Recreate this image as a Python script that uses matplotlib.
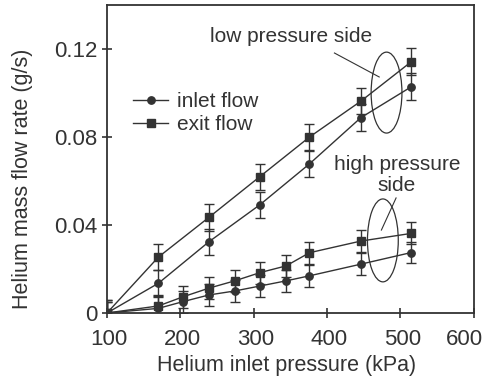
import numpy as np
import matplotlib.pyplot as plt
import matplotlib.transforms as mtransforms
from matplotlib.patches import Ellipse
from matplotlib.lines import Line2D

plt.rcParams['font.family'] = ['Liberation Sans', 'DejaVu Sans']

# low pressure side
p_low = [100, 170, 239, 308, 376, 446, 515]
inlet_low = [0.0, 0.0135, 0.0324, 0.0491, 0.0678, 0.0888, 0.1029]
exit_low = [0.0, 0.0254, 0.0435, 0.0619, 0.0800, 0.0963, 0.1143]
err_low = 0.006

# high pressure side
p_high = [100, 170, 204, 239, 274, 309, 344, 376, 446, 515]
inlet_high = [0.0, 0.0021, 0.0052, 0.0082, 0.0100, 0.0123, 0.0146, 0.0169, 0.0222, 0.0275]
exit_high = [0.0, 0.0032, 0.0074, 0.0113, 0.0146, 0.0184, 0.0214, 0.0274, 0.0327, 0.0362]
err_high = 0.005

xticks = [100, 200, 300, 400, 500, 600]
yticks = [0, 0.04, 0.08, 0.12]
yticklabels = ['0', '0.04', '0.08', '0.12']

c = '#333333'
fig = plt.figure(figsize=(4.85, 3.83), dpi=100)
ax = fig.add_axes([0.2206, 0.1828, 0.7564, 0.804])

kw = dict(color=c, lw=1.0, ecolor=c, elinewidth=1.0, capsize=3.5, capthick=1.0)
ax.errorbar(p_low, inlet_low, yerr=err_low, fmt='-o', ms=5.3, **kw)
ax.errorbar(p_low, exit_low, yerr=err_low, fmt='-s', ms=6, **kw)
ax.errorbar(p_high, inlet_high, yerr=err_high, fmt='-o', ms=5.3, **kw)
ax.errorbar(p_high, exit_high, yerr=err_high, fmt='-s', ms=6, **kw)

ax.set_xlim(100, 600)
ax.set_ylim(0, 0.14)
ax.set_xticks(xticks)
ax.set_yticks(yticks)
ax.set_yticklabels(yticklabels)
ax.tick_params(direction='inout', length=7.5, width=1.2, colors=c, labelsize=16)
ax.tick_params(axis='x', pad=8)
ax.tick_params(axis='y', pad=3)
for s in ax.spines.values():
    s.set_color(c)
    s.set_linewidth(1.3)

# nudge the last x label so it fits inside the figure
for i, lab in enumerate(ax.get_xticklabels()):
    dx = -9 if i == len(xticks) - 1 else 2
    lab.set_transform(lab.get_transform() +
                      mtransforms.ScaledTranslation(dx / 100, 0, fig.dpi_scale_trans))

ax.set_xlabel('Helium inlet pressure (kPa)', fontsize=15.5, color=c)
ax.set_ylabel('Helium mass flow rate (g/s)', fontsize=15.5, color=c)
ax.xaxis.set_label_coords(0.49, -0.135)
ax.yaxis.set_label_coords(-0.203, 0.435)

handles = [Line2D([], [], color=c, lw=1.0, marker='o', ms=5.3),
           Line2D([], [], color=c, lw=1.0, marker='s', ms=6)]
leg = ax.legend(handles, ['inlet flow', 'exit flow'], loc='upper left',
                bbox_to_anchor=(0.071, 0.717), frameon=False, fontsize=15,
                handlelength=1.7, handletextpad=0.4, labelspacing=0.2,
                borderaxespad=0, borderpad=0)
for t in leg.get_texts():
    t.set_color(c)

# annotations
ax.add_patch(Ellipse((481, 0.1002), 42, 0.0368, fill=False, ec=c, lw=0.9))
ax.add_patch(Ellipse((476, 0.0330), 42, 0.0377, fill=False, ec=c, lw=0.9))
ax.plot([410, 471], [0.1182, 0.1073], color=c, lw=0.8)
ax.plot([494, 474], [0.0523, 0.0377], color=c, lw=0.8)
ax.text(351, 0.1259, 'low pressure side', fontsize=15, color=c, ha='center', va='center')
ax.text(495, 0.0627, 'high pressure\nside', fontsize=15, color=c, ha='center', va='center',
        linespacing=1.1)

fig.savefig('out.png', dpi=100)
